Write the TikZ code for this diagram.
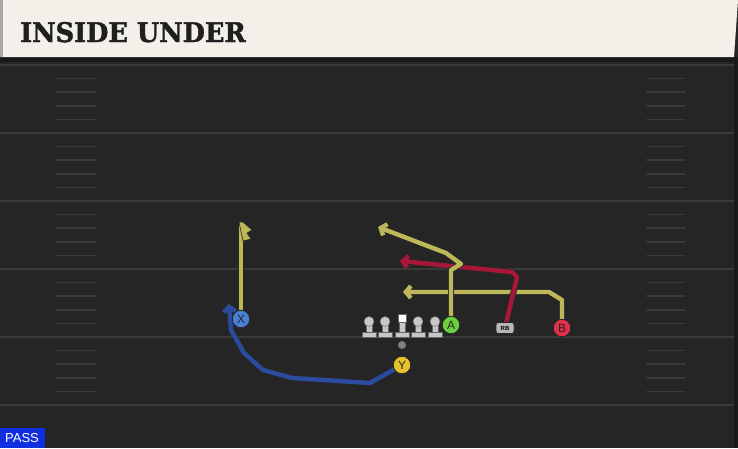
\documentclass[tikz,border=0pt]{standalone}
\usepackage{fontspec}
\setmainfont{DejaVu Serif}
\newfontfamily\tagfont{Liberation Sans}
\newfontfamily\headfont{DejaVu Serif Bold}[FakeBold=1.6]
\usetikzlibrary{arrows.meta}

\definecolor{turf}{HTML}{252525}
\definecolor{stripe}{HTML}{3A3A3A}
\definecolor{banner}{HTML}{F3F0E9}
\definecolor{olive}{HTML}{BDB75A}
\definecolor{crimson}{HTML}{A8173A}
\definecolor{navy}{HTML}{2B4C9E}
\definecolor{xblue}{HTML}{4A7FD6}
\definecolor{ygold}{HTML}{E5C22E}
\definecolor{agreen}{HTML}{6CD03E}
\definecolor{bred}{HTML}{E2304B}
\definecolor{passblue}{HTML}{1030E0}

\begin{document}
\begin{tikzpicture}[x=1pt,y=-1pt,
    player/.style={circle,draw=black!85,line width=0.8pt,minimum size=17.5pt,inner sep=0pt,
      font=\tagfont\fontsize{12}{12}\selectfont,text=black!85},
    route/.style={line width=4.4pt,line join=round,
      preaction={draw=black!85,line width=6pt}},
    tip/.style={-{Straight Barb[length=5pt,width=12pt]}},
    lineman/.style={fill=black!22,draw=black!60,line width=0.4pt},
    hash/.style={draw=stripe,line width=1.6pt,line cap=round}]

    \useasboundingbox (0,0) rectangle (738,448);

    % field
    \fill[turf] (0,0) rectangle (738,448);
    \fill[black!90] (734,58) rectangle (738,448);
    \foreach \y in {65,133,201,269,337,405}
      \draw[stripe,line width=2pt] (0,\y) -- (734,\y);
    \foreach \y in {65,133,201,269,337}
      \foreach \k in {1,...,4} {
        \draw[hash] (57,\y+13.6*\k) -- (95,\y+13.6*\k);
        \draw[hash] (647,\y+13.6*\k) -- (685,\y+13.6*\k);
      }

    % header
    \fill[black!90] (0,57) rectangle (738,62);
    \fill[banner] (0,0) -- (738,0) -- (734,57) -- (0,57) -- cycle;
    \fill[black!35] (0,0) rectangle (3,57);
    \node[anchor=base west,inner sep=0pt,xscale=0.95,text=black!88,
      font=\headfont\fontsize{27}{27}\selectfont] (title) at (20,42) {INSIDE UNDER};

    % formation
    \foreach \x/\n in {369/lt,385/lg,418/rg,435/rt} {
      \fill[lineman] (\x-7,332.5) rectangle (\x+7,337.5);
      \fill[lineman] (\x-3,324) rectangle (\x+3,332.5);
      \node[circle,lineman,minimum size=10pt,inner sep=0pt] (\n) at (\x,321.5) {};
    }
    \fill[lineman] (395,332.5) rectangle (409,337.5);
    \fill[lineman] (399,322) rectangle (405,332.5);
    \node[fill=white,draw=black!60,minimum size=8.5pt,inner sep=0pt] (c) at (402,318) {};
    \node[circle,fill=black!50,minimum size=8pt,inner sep=0pt] (ball) at (402,345) {};

    % routes
    \coordinate (xend) at (229,304);
    \coordinate (aend) at (378,227);
    \coordinate (bend) at (403,292);
    \coordinate (rbend) at (400,261);
    \coordinate (flag) at (241,224);

    \draw[route,navy,tip] (402,365) -- (370,383) -- (292,378) -- (263,370) -- (244,353) -- (231,330) -- (xend);
    \draw[route,olive] (241,319) -- (flag);
    \fill[olive,draw=black!85,line width=0.6pt] (239,222) -- (243,222) -- (252,230) -- (247,233)
      -- (251,239) -- (243,241) -- cycle;
    \draw[route,olive,tip] (562,328) -- (562,300) -- (549,292) -- (bend);
    \draw[route,crimson,tip] (505,328) -- (517,277) -- (512,272) -- (rbend);
    \draw[route,olive,tip] (451,325) -- (451,270) -- (461,264) -- (446,253) -- (aend);

    % players
    \node[player,fill=xblue] (x) at (241,319) {X};
    \node[player,fill=ygold] (yr) at (402,365) {Y};
    \node[player,fill=agreen] (a) at (451,325) {A};
    \node[player,fill=bred] (b) at (562,328) {B};
    \node[rounded corners=2.5pt,fill=black!28,draw=black!85,line width=0.6pt,minimum width=18pt,
      minimum height=11pt,inner sep=0pt,font=\tagfont\fontsize{6}{6}\selectfont\bfseries] (rb) at (505,328) {RB};

    % play type
    \fill[passblue] (0,428) rectangle (45,448);
    \node[text=white,font=\tagfont\fontsize{13}{13}\selectfont] (pass) at (22,438.5) {PASS};
  \end{tikzpicture}
\end{document}
